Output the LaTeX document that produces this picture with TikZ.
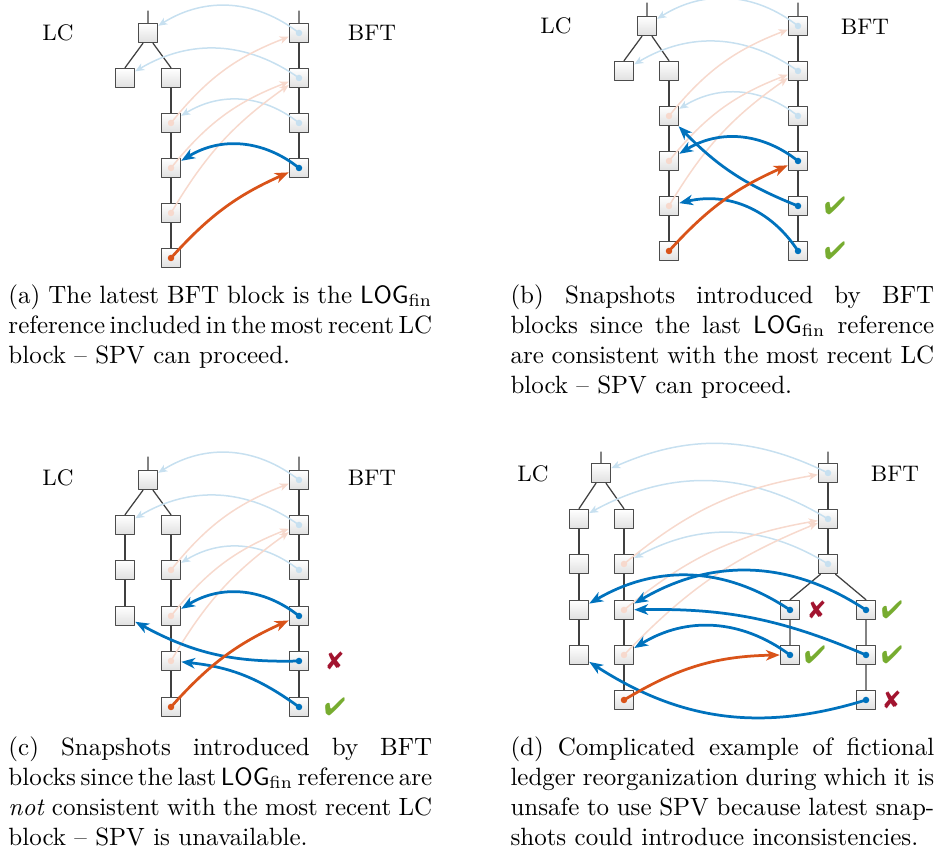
\documentclass[tikz,border=0pt]{standalone}
\usepackage{pifont}
\usetikzlibrary{arrows.meta}
\definecolor{mblue}{RGB}{0,114,189}
\definecolor{morange}{RGB}{217,83,25}
\definecolor{mgreen}{RGB}{119,172,48}
\definecolor{mred}{RGB}{162,20,47}
\newcommand{\yes}{\textcolor{mgreen}{\ding{52}}}
\newcommand{\no}{\textcolor{mred}{\ding{56}}}
\newcommand{\logfin}{$\mathsf{LOG}_{\mathrm{fin}}$}
\newcommand{\tightsp}{\spaceskip=3.33pt plus 2pt minus 1.7pt\relax}
\begin{document}
\begin{tikzpicture}[x=0.4pt,y=-0.4pt,line join=round,line cap=round,
	blk/.style={draw=black!70,line width=0.6pt,minimum size=7.6pt,inner sep=0pt,top color=white,bottom color=black!12},
	chn/.style={black!75,line width=0.5pt},
	lb/.style={-{Stealth[length=3.6pt,width=3pt,inset=1pt]},mblue!22,line width=0.6pt},
	lo/.style={-{Stealth[length=3.6pt,width=3pt,inset=1pt]},morange!22,line width=0.6pt},
	db/.style={-{Stealth[length=5.5pt,width=4.2pt,inset=1.6pt]},mblue,line width=1.1pt},
	dor/.style={-{Stealth[length=5.5pt,width=4.2pt,inset=1.6pt]},morange,line width=1.1pt},
	lbl/.style={font=\small},
	capt/.style={anchor=north west,inner sep=0pt,text width=169.5pt,align=justify}]
	\useasboundingbox (0,0) rectangle (935,850);
	% (a)
	\node[lbl] (aLC) at (58,33) {LC};
	\node[lbl] (aBFT) at (372,33) {BFT};
	\node[blk] (aT) at (148,33) {};
	\node[blk] (aK) at (125,78) {};
	\foreach \i/\y in {1/78,2/123,3/168,4/213,5/258}{\node[blk] (aC\i) at (171,\y) {};}
	\foreach \i/\y in {1/33,2/78,3/123,4/168}{\node[blk] (aB\i) at (299,\y) {};}
	\draw[chn] (148,11)--(aT) (299,11)--(aB1) ([xshift=-2pt]aT.south)--(aK.north) ([xshift=2pt]aT.south)--(aC1.north);
	\draw[chn] (aC1)--(aC2)--(aC3)--(aC4)--(aC5) (aB1)--(aB2)--(aB3)--(aB4);
	\draw[lb] (aB1.center) to[bend right=35] (aT);
	\draw[lb] (aB2.center) to[bend right=33] (aK);
	\draw[lb] (aB3.center) to[bend right=35] (aC2);
	\draw[lo] (aC2.center) to[bend left=15] (aB1);
	\draw[lo] (aC3.center) to[bend left=15] (aB2);
	\draw[lo] (aC4.center) to[bend left=12] (aB2);
	\draw[db] (aB4.center) to[bend right=35] (aC3);
	\draw[dor] (aC5.center) to[bend left=12] (aB4);
	\foreach \n in {aB1,aB2,aB3}{\fill[mblue!22] (\n) circle (1.3pt);}
	\foreach \n in {aC2,aC3,aC4}{\fill[morange!22] (\n) circle (1.3pt);}
	\fill[mblue] (aB4) circle (1.3pt);
	\fill[morange] (aC5) circle (1.3pt);
	\node[capt] (aCap) at (8,284) {\tightsp(a) The latest BFT block is the \logfin\linebreak reference included in the most recent LC\linebreak block -- SPV can proceed.};
	% (b)
	\node[lbl] (bLC) at (556,26) {LC};
	\node[lbl] (bBFT) at (865,27) {BFT};
	\node[blk] (bT) at (647,26) {};
	\node[blk] (bK) at (624,71) {};
	\foreach \i/\y in {1/71,2/116,3/161,4/206,5/251}{\node[blk] (bC\i) at (669,\y) {};}
	\foreach \i/\y in {1/26,2/71,3/116,4/161,5/206,6/251}{\node[blk] (bB\i) at (798,\y) {};}
	\draw[chn] (647,3)--(bT) (798,3)--(bB1) ([xshift=-2pt]bT.south)--(bK.north) ([xshift=2pt]bT.south)--(bC1.north);
	\draw[chn] (bC1)--(bC2)--(bC3)--(bC4)--(bC5) (bB1)--(bB2)--(bB3)--(bB4)--(bB5)--(bB6);
	\draw[lb] (bB1.center) to[bend right=35] (bT);
	\draw[lb] (bB2.center) to[bend right=33] (bK);
	\draw[lb] (bB3.center) to[bend right=35] (bC2);
	\draw[lo] (bC2.center) to[bend left=15] (bB1);
	\draw[lo] (bC3.center) to[bend left=15] (bB2);
	\draw[lo] (bC4.center) to[bend left=12] (bB2);
	\draw[db] (bB4.center) to[bend right=35] (bC3);
	\draw[db] (bB5.center) to[bend left=12] (bC2);
	\draw[db] (bB6.center) to[bend right=35] (bC4);
	\draw[dor] (bC5.center) to[bend left=12] (bB4);
	\foreach \n in {bB1,bB2,bB3}{\fill[mblue!22] (\n) circle (1.3pt);}
	\foreach \n in {bC2,bC3,bC4}{\fill[morange!22] (\n) circle (1.3pt);}
	\foreach \n in {bB4,bB5,bB6}{\fill[mblue] (\n) circle (1.3pt);}
	\fill[morange] (bC5) circle (1.3pt);
	\node (bY1) at (835,206) {\yes};
	\node (bY2) at (835,251) {\yes};
	\node[capt] (bCap) at (510,284) {\tightsp(b) Snapshots introduced by BFT\linebreak blocks since the last \logfin{} reference\linebreak are consistent with the most recent LC\linebreak block -- SPV can proceed.};
	% (c)
	\node[lbl] (cLC) at (58,478) {LC};
	\node[lbl] (cBFT) at (372,478) {BFT};
	\node[blk] (cT) at (148,480) {};
	\foreach \i/\y in {1/525,2/570,3/616}{\node[blk] (cK\i) at (125,\y) {};}
	\foreach \i/\y in {1/525,2/570,3/616,4/661,5/707}{\node[blk] (cC\i) at (171,\y) {};}
	\foreach \i/\y in {1/480,2/525,3/570,4/616,5/661,6/707}{\node[blk] (cB\i) at (299,\y) {};}
	\draw[chn] (148,457)--(cT) (299,457)--(cB1) ([xshift=-2pt]cT.south)--(cK1.north) ([xshift=2pt]cT.south)--(cC1.north);
	\draw[chn] (cK1)--(cK2)--(cK3) (cC1)--(cC2)--(cC3)--(cC4)--(cC5) (cB1)--(cB2)--(cB3)--(cB4)--(cB5)--(cB6);
	\draw[lb] (cB1.center) to[bend right=35] (cT);
	\draw[lb] (cB2.center) to[bend right=33] (cK1);
	\draw[lb] (cB3.center) to[bend right=35] (cC2);
	\draw[lo] (cC2.center) to[bend left=15] (cB1);
	\draw[lo] (cC3.center) to[bend left=15] (cB2);
	\draw[lo] (cC4.center) to[bend left=12] (cB2);
	\draw[db] (cB4.center) to[bend right=35] (cC3);
	\draw[db] (cB5.center) to[bend left=15] (cK3);
	\draw[db] (cB6.center) to[bend right=15] (cC4);
	\draw[dor] (cC5.center) to[bend left=12] (cB4);
	\foreach \n in {cB1,cB2,cB3}{\fill[mblue!22] (\n) circle (1.3pt);}
	\foreach \n in {cC2,cC3,cC4}{\fill[morange!22] (\n) circle (1.3pt);}
	\foreach \n in {cB4,cB5,cB6}{\fill[mblue] (\n) circle (1.3pt);}
	\fill[morange] (cC5) circle (1.3pt);
	\node (cN1) at (335,661) {\no};
	\node (cY1) at (335,707) {\yes};
	\node[capt] (cCap) at (8,736) {\tightsp(c) Snapshots introduced by BFT\linebreak blocks since the last \logfin{} reference are\linebreak \emph{not} consistent with the most recent LC\linebreak block -- SPV is unavailable.};
	% (d)
	\node[lbl] (dLC) at (533,474) {LC};
	\node[lbl] (dBFT) at (895,474) {BFT};
	\node[blk] (dT) at (601,473) {};
	\foreach \i/\y in {1/519,2/564,3/610,4/655}{\node[blk] (dK\i) at (579,\y) {};}
	\foreach \i/\y in {1/519,2/564,3/610,4/655,5/700}{\node[blk] (dC\i) at (624,\y) {};}
	\foreach \i/\y in {1/473,2/519,3/564}{\node[blk] (dB\i) at (828,\y) {};}
	\foreach \i/\y in {1/610,2/655}{\node[blk] (dL\i) at (790,\y) {};}
	\foreach \i/\y in {1/610,2/655,3/700}{\node[blk] (dR\i) at (866,\y) {};}
	\draw[chn] (601,452)--(dT) (828,452)--(dB1) ([xshift=-2pt]dT.south)--(dK1.north) ([xshift=2pt]dT.south)--(dC1.north);
	\draw[chn] (dK1)--(dK2)--(dK3)--(dK4) (dC1)--(dC2)--(dC3)--(dC4)--(dC5) (dB1)--(dB2)--(dB3);
	\draw[chn] ([xshift=-3pt]dB3.south)--(dL1.north) ([xshift=3pt]dB3.south)--(dR1.north) (dL1)--(dL2) (dR1)--(dR2)--(dR3);
	\draw[lb] (dB1.center) to[bend right=25] (dT);
	\draw[lb] (dB2.center) to[bend right=30] (dK1);
	\draw[lb] (dB3.center) to[bend right=30] (dC2);
	\draw[lo] (dC2.center) to[bend left=15] (dB1);
	\draw[lo] (dC3.center) to[bend left=15] (dB2);
	\draw[lo] (dC4.center) to[bend left=12] (dB2);
	\draw[db] (dL1.center) to[bend right=32] (dK3);
	\draw[db] (dR1.center) to[bend right=32] (dC3);
	\draw[db] (dR2.center) to[bend right=12] (dC3);
	\draw[db] (dL2.center) to[bend right=34] (dC4);
	\draw[db] (dR3.center) to[bend left=25] (dK4);
	\draw[dor] (dC5.center) to[bend left=15] (dL2);
	\foreach \n in {dB1,dB2,dB3}{\fill[mblue!22] (\n) circle (1.3pt);}
	\foreach \n in {dC2,dC3,dC4}{\fill[morange!22] (\n) circle (1.3pt);}
	\foreach \n in {dL1,dL2,dR1,dR2,dR3}{\fill[mblue] (\n) circle (1.3pt);}
	\fill[morange] (dC5) circle (1.3pt);
	\node (dN1) at (817,610) {\no};
	\node (dY1) at (815,655) {\yes};
	\node (dY2) at (892,610) {\yes};
	\node (dY3) at (892,655) {\yes};
	\node (dN2) at (892,700) {\no};
	\node[capt] (dCap) at (510,736) {\tightsp(d) Complicated example of fictional\linebreak ledger reorganization during which it is\linebreak unsafe to use SPV because latest snap-\linebreak shots could introduce inconsistencies.};
\end{tikzpicture}
\end{document}
